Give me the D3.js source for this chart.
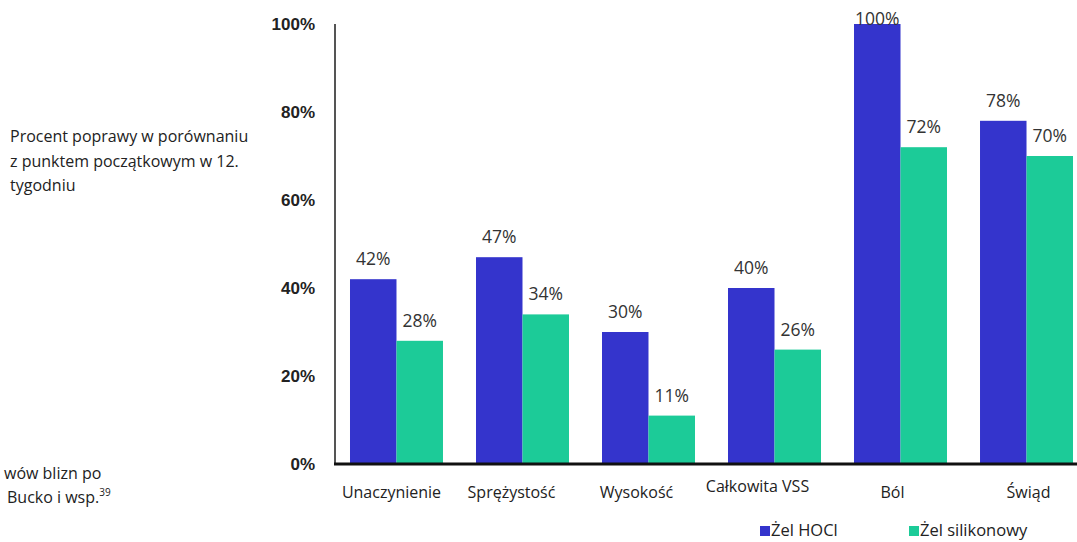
<!DOCTYPE html>
<html>
<head>
<meta charset="utf-8">
<script src="https://cdn.jsdelivr.net/npm/d3@7"></script>
<style>
  body { margin: 0; background: #fff; }
  svg { display: block; font-family: "Open Sans", sans-serif; }
</style>
</head>
<body>
<div class="chart"></div>
<script>
var categories = ["Unaczynienie", "Sprężystość", "Wysokość", "Całkowita VSS", "Ból", "Świąd"];
var hoclValues = [42, 47, 30, 40, 100, 78];
var siliconeValues = [28, 34, 11, 26, 72, 70];
var seriesNames = ["Żel HOCl", "Żel silikonowy"];
var yTicks = [0, 20, 40, 60, 80, 100];

var colors = ["#3434cc", "#1ccb98"];
// category labels in the original sit a little off-centre
var catShift = [-5, -11, -12, -17, -8, 2];

var svg = d3.select("body div.chart").append("svg")
            .attr("width", 1077).attr("height", 542);

var x = d3.scaleBand()
          .domain(categories)
          .range([335, 1088])
          .paddingInner(0.262)
          .paddingOuter(0.119);

var xSub = d3.scaleBand()
             .domain([0, 1])
             .range([0, x.bandwidth()]);

var y = d3.scaleLinear()
          .domain([0, 100])
          .range([464, 24]);

// left side text
var note = svg.append("text").attr("font-size", 16).attr("fill", "#222");
["Procent poprawy w porównaniu", "z punktem początkowym w 12.", "tygodniu"].forEach(function(t, i) {
    note.append("tspan").attr("x", 10).attr("y", 142 + i * 24.5).text(t);
});

svg.append("text").attr("x", 4).attr("y", 479).attr("font-size", 16).attr("fill", "#222")
   .text("wów blizn po");
var cite = svg.append("text").attr("x", 7).attr("y", 503).attr("font-size", 16).attr("fill", "#222");
cite.append("tspan").text("Bucko i wsp.");
cite.append("tspan").attr("font-size", 10).attr("dy", -7).text("39");

// y axis
var yAxis = svg.append("g")
               .attr("transform", "translate(335,0)")
               .call(d3.axisLeft(y).tickValues(yTicks).tickSize(0).tickPadding(20)
                       .tickFormat(function(d) { return d + "%"; }));
yAxis.select(".domain").remove();
yAxis.selectAll("text")
     .attr("font-family", "Liberation Sans, Arial, sans-serif")
     .attr("font-weight", "bold").attr("font-size", 17).attr("fill", "#222");

svg.append("line")
   .attr("x1", 335).attr("x2", 335).attr("y1", 24).attr("y2", 464)
   .attr("stroke", "#555").attr("stroke-width", 2);

// bars
var groups = svg.selectAll("g.group")
                .data(categories)
                .enter().append("g")
                .attr("class", "group")
                .attr("transform", function(d) { return "translate(" + x(d) + ",0)"; });

groups.each(function(d, i) {
    var g = d3.select(this);
    [hoclValues[i], siliconeValues[i]].forEach(function(v, s) {
        g.append("rect")
         .attr("x", xSub(s))
         .attr("y", y(v))
         .attr("width", xSub.bandwidth())
         .attr("height", y(0) - y(v))
         .attr("fill", colors[s]);
        g.append("text")
         .attr("x", xSub(s) + xSub.bandwidth() / 2)
         .attr("y", v === 100 ? y(v) + 1 : y(v) - 14)
         .attr("text-anchor", "middle")
         .attr("font-size", 17.5)
         .attr("fill", "#333")
         .text(v + "%");
    });
});

// x axis
svg.append("line")
   .attr("x1", 334).attr("x2", 1077).attr("y1", 464).attr("y2", 464)
   .attr("stroke", "#111").attr("stroke-width", 3);

svg.selectAll("text.cat")
   .data(categories)
   .enter().append("text")
   .attr("class", "cat")
   .attr("x", function(d, i) { return x(d) + x.bandwidth() / 2 + catShift[i]; })
   .attr("y", function(d) { return d === "Całkowita VSS" ? 492 : 498; })
   .attr("text-anchor", "middle")
   .attr("font-size", 16)
   .attr("fill", "#222")
   .text(function(d) { return d; });

// legend
var legendX = [760, 909];
seriesNames.forEach(function(name, i) {
    svg.append("rect")
       .attr("x", legendX[i]).attr("y", 526)
       .attr("width", 10).attr("height", 10)
       .attr("fill", colors[i]);
    svg.append("text")
       .attr("x", legendX[i] + 11).attr("y", 536)
       .attr("font-size", 16.5).attr("fill", "#222")
       .text(name);
});
</script>
</body>
</html>
